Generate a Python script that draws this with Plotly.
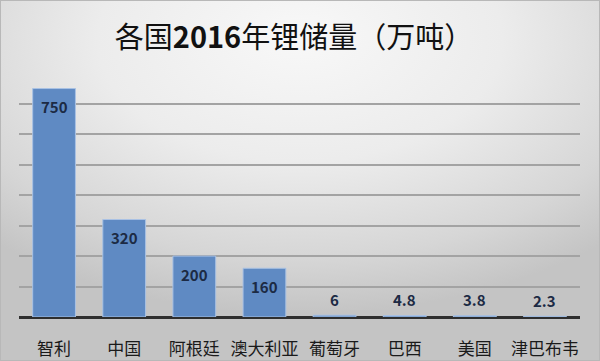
import base64
import plotly.graph_objects as go

countries = ["智利", "中国", "阿根廷", "澳大利亚", "葡萄牙", "巴西", "美国", "津巴布韦"]
reserves = [750, 320, 200, 160, 6, 4.8, 3.8, 2.3]
label_text = ["750", "320", "200", "160", "6", "4.8", "3.8", "2.3"]

W, H = 600, 361
ML, MR, MT, MB = 19, 20, 73, 44
PW, PH = W - ML - MR, H - MT - MB

svg = f'''<svg xmlns="http://www.w3.org/2000/svg" width="{W}" height="{H}" viewBox="0 0 {W} {H}" preserveAspectRatio="none">
<defs><radialGradient id="g" cx="50%" cy="12%" r="75%" fx="50%" fy="10%">
<stop offset="0" stop-color="#f8f8f8"/><stop offset="0.45" stop-color="#ececec"/>
<stop offset="0.8" stop-color="#d6d6d6"/><stop offset="1" stop-color="#c4c4c4"/></radialGradient></defs>
<rect width="{W}" height="{H}" fill="url(#g)"/>
<rect x="0.5" y="0.5" width="{W-1}" height="{H-1}" fill="none" stroke="#b8b8b8" stroke-width="1"/>
</svg>'''
src = "data:image/svg+xml;base64," + base64.b64encode(svg.encode()).decode()

fig = go.Figure()
fig.add_trace(go.Bar(
    x=countries, y=reserves,
    marker=dict(color="#5f8ac3", line=dict(color="#a9c2e4", width=1)),
    hoverinfo="x+y",
))

for c, v, t in zip(countries, reserves, label_text):
    inside = v >= 100
    fig.add_annotation(
        x=c, y=v, text=f"<b>{t}</b>", showarrow=False,
        yanchor="middle", yshift=-18 if inside else 16,
        font=dict(family="Noto Sans CJK SC", size=15, color="#1c2a44"),
    )

fig.update_layout(
    width=W, height=H,
    margin=dict(l=ML, r=MR, t=MT, b=MB, autoexpand=False),
    paper_bgcolor="#e2e2e2",
    plot_bgcolor="rgba(0,0,0,0)",
    bargap=0.39,
    showlegend=False,
    title=dict(
        text="各国<b>2016</b>年锂储量（万吨）",
        x=0.49, xanchor="center", y=0.895, yanchor="middle",
        font=dict(family="Noto Sans CJK SC", size=29, color="#111111"),
    ),
    images=[dict(
        source=src, xref="paper", yref="paper",
        x=-ML / PW, y=1 + MT / PH, sizex=W / PW, sizey=H / PH,
        xanchor="left", yanchor="top", sizing="stretch", layer="below",
    )],
    xaxis=dict(
        showgrid=False, showline=False, ticks="", automargin=False,
        tickfont=dict(family="Noto Sans CJK SC", size=17, color="#1a1a1a"),
        ticklabelstandoff=20,
    ),
    yaxis=dict(
        range=[0, 801], dtick=100, showticklabels=False, automargin=False,
        showgrid=True, gridcolor="#a3a3a3", gridwidth=1.5,
        zeroline=True, zerolinecolor="#2e2e2e", zerolinewidth=2.5,
    ),
)

fig.write_html(
    "out.html",
    config={"displayModeBar": False},
    post_script="document.body.style.margin='0';document.body.style.overflow='hidden';",
)
